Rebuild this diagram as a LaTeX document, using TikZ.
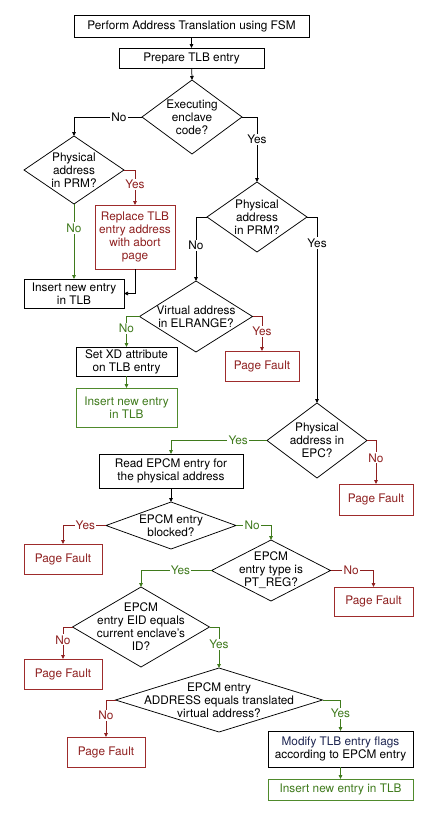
\documentclass[tikz,border=0pt]{standalone}
\usepackage{fontspec}
\setmainfont{TeX Gyre Heros}
\usetikzlibrary{shapes.geometric,arrows.meta}
\definecolor{fred}{HTML}{8E1F1F}
\definecolor{fredb}{HTML}{9E2C2C}
\definecolor{fgreen}{HTML}{3F7A1C}
\definecolor{fgreenb}{HTML}{4F8A2C}
\definecolor{fnavy}{HTML}{1C2450}
\begin{document}
\begin{tikzpicture}[x=1pt,y=-1pt,
  font=\fontsize{11.8}{13}\selectfont,
  box/.style={draw, line width=0.8pt, rectangle, align=center, inner sep=0pt, outer sep=0pt},
  redbox/.style={box, draw=fredb, text=fred},
  greenbox/.style={box, draw=fgreenb, text=fgreen},
  dia/.style={draw, line width=0.75pt, diamond, inner sep=0pt, outer sep=0pt},
  dtext/.style={align=center, inner sep=0pt},
  conn/.style={line width=0.75pt, -{Triangle[length=4pt,width=3.6pt]}},
  rconn/.style={conn, draw=fred},
  gconn/.style={conn, draw=fgreen},
  lab/.style={fill=white, inner sep=1.2pt},
  rlab/.style={lab, text=fred},
  glab/.style={lab, text=fgreen}
]
\useasboundingbox (0,0) rectangle (426,814);

% boxes
\node[box, minimum width=235pt, minimum height=22pt] (b1) at (191.5,26) {Perform Address Translation using FSM};
\node[box, minimum width=145pt, minimum height=20pt] (b2) at (191.5,58) {Prepare TLB entry};

\node[dia, minimum width=100pt, minimum height=74pt] (d1) at (192,117) {};
\node[dtext] (d1t) at (192,117) {Executing\\enclave\\code?};

\node[dia, minimum width=100pt, minimum height=68pt] (d2) at (74,170) {};
\node[dtext] (d2t) at (74,170) {Physical\\address\\in PRM?};

\node[redbox, minimum width=80pt, minimum height=64pt] (rep) at (135,237) {Replace TLB\\entry address\\with abort\\page};
\node[box, minimum width=100pt, minimum height=29pt] (ins1) at (74,293.5) {Insert new entry\\in TLB};

\node[dia, minimum width=100pt, minimum height=70pt] (d3) at (257,217) {};
\node[dtext] (d3t) at (257,217) {Physical\\address\\in PRM?};

\node[dia, minimum width=113pt, minimum height=71pt] (d4) at (196,316.5) {};
\node[dtext] (d4t) at (196,316.5) {Virtual address\\in ELRANGE?};

\node[box, minimum width=101pt, minimum height=29pt] (xd) at (126.5,361.5) {Set XD attribute\\on TLB entry};
\node[redbox, minimum width=74pt, minimum height=30pt] (pf1) at (262,366) {Page Fault};
\node[greenbox, minimum width=101pt, minimum height=39pt] (ins2) at (126.5,407.5) {Insert new entry\\in TLB};

\node[dia, minimum width=100pt, minimum height=75pt] (d5) at (317,440.5) {};
\node[dtext] (d5t) at (317,440.5) {Physical\\address in\\EPC?};
\node[redbox, minimum width=74pt, minimum height=31pt] (pf2) at (376,499.5) {Page Fault};

\node[box, minimum width=144pt, minimum height=34pt] (rd) at (171,471) {Read EPCM entry for\\the physical address};

\node[dia, minimum width=130pt, minimum height=47pt] (d6) at (171,525.5) {};
\node[dtext] (d6t) at (171,525.5) {EPCM entry\\blocked?};
\node[redbox, minimum width=78pt, minimum height=30pt] (pf3) at (63,559) {Page Fault};

\node[dia, minimum width=119pt, minimum height=61pt] (d7) at (271,570.5) {};
\node[dtext] (d7t) at (271,570.5) {EPCM\\entry type is\\PT\_REG?};
\node[redbox, minimum width=79pt, minimum height=29pt] (pf4) at (373.5,601.5) {Page Fault};

\node[dia, minimum width=137pt, minimum height=80pt] (d8) at (141,627) {};
\node[dtext] (d8t) at (141,627) {EPCM\\entry EID equals\\current enclave's\\ID?};
\node[redbox, minimum width=78pt, minimum height=30pt] (pf5) at (63,674) {Page Fault};

\node[dia, minimum width=207pt, minimum height=64pt] (d9) at (219,700) {};
\node[dtext] (d9t) at (219,700) {EPCM entry\\ADDRESS equals translated\\virtual address?};
\node[redbox, minimum width=78pt, minimum height=30pt] (pf6) at (106,752) {Page Fault};

\node[box, minimum width=145pt, minimum height=36pt] (mod) at (340.5,749) {{\color{fnavy}Modify TLB entry flags}\\according to EPCM entry};
\node[greenbox, minimum width=145pt, minimum height=21pt] (ins3) at (340.5,789.5) {Insert new entry in TLB};

% connectors
\draw[conn] (b1) -- (b2);
\draw[conn] (b2) -- (d1.north);
\draw[conn] (d1.west) -| node[lab, pos=0.17] {No} (d2.north);
\draw[conn] (d1.east) -| node[lab, pos=0.67] {Yes} (d3.north);
\draw[rconn] (d2.east) -| node[rlab, pos=0.71] {Yes} (rep.north);
\draw[gconn] (d2.south) -- node[glab, pos=0.32] {No} (ins1.north);
\draw[conn] (rep.south) |- (ins1.east);
\draw[conn] (d3.west) -| node[lab, pos=0.72] {No} (d4.north);
\draw[conn] (d3.east) -| node[lab, pos=0.57] {Yes} (d5.north);
\draw[gconn] (d4.west) -| node[glab, pos=0.7] {No} (xd.north);
\draw[rconn] (d4.east) -| node[rlab, pos=0.72] {Yes} (pf1.north);
\draw[gconn] (xd) -- (ins2);
\draw[gconn] (d5.west) -| node[glab, pos=0.15] {Yes} (rd.north);
\draw[rconn] (d5.east) -| node[rlab, pos=0.7] {No} (pf2.north);
\draw[conn] (rd) -- (d6.north);
\draw[rconn] (d6.west) -| node[rlab, pos=0.24] {Yes} (pf3.north);
\draw[gconn] (d6.east) -| node[glab, pos=0.23] {No} (d7.north);
\draw[gconn] (d7.west) -| node[glab, pos=0.22] {Yes} (d8.north);
\draw[rconn] (d7.east) -| node[rlab, pos=0.24] {No} (pf4.north);
\draw[rconn] (d8.west) -| node[rlab, pos=0.7] {No} (pf5.north);
\draw[gconn] (d8.east) -| node[glab, pos=0.71] {Yes} (d9.north);
\draw[rconn] (d9.west) -| node[rlab, pos=0.71] {No} (pf6.north);
\draw[gconn] (d9.east) -| node[glab, pos=0.72] {Yes} (mod.north);
\draw[gconn] (mod) -- (ins3);
\end{tikzpicture}
\end{document}
